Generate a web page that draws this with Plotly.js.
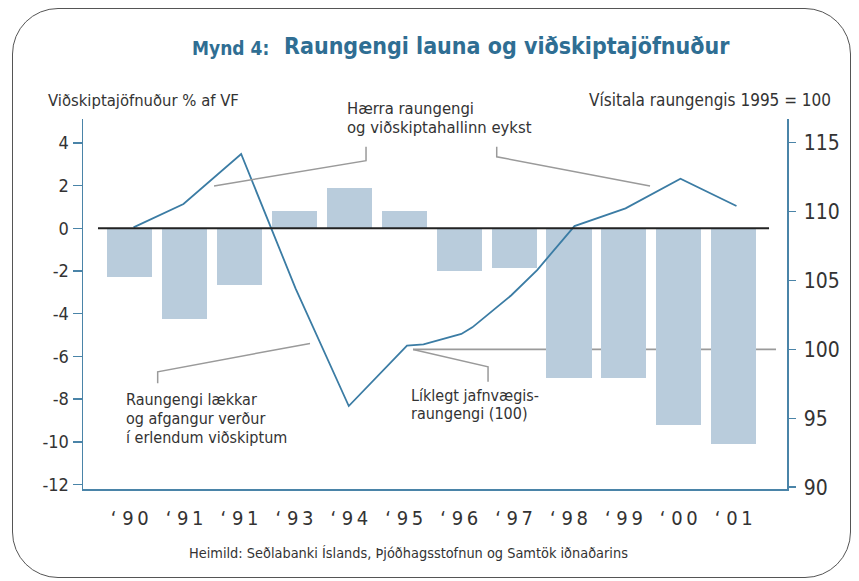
<!DOCTYPE html>
<html>
<head>
<meta charset="utf-8">
<script src="https://cdn.plot.ly/plotly-3.0.1.min.js"></script>
<style>
  html, body { margin:0; padding:0; background:#fff; }
  #wrap { position:relative; width:859px; height:581px; }
  #chart { position:absolute; left:0; top:0; width:859px; height:581px; }
  #frame { position:absolute; left:12px; top:8px; width:837px; height:568px;
           border:1.5px solid #555; border-radius:46px; pointer-events:none; }
</style>
</head>
<body>
<div id="wrap"><div id="chart"></div><div id="frame"></div></div>
<script>
// ---- data ----
const yearLabels = ["‘ 9\u20090","‘ 9\u20091","‘ 9\u20091","‘ 9\u20093","‘ 9\u20094","‘ 9\u20095","‘ 9\u20096","‘ 9\u20097","‘ 9\u20098","‘ 9\u20099","‘ 0\u20090","‘ 0\u20091"];
const yearPos = [0,1,2,3,4,5,6,7,8,9,10,11];
// Viðskiptajöfnuður % af VF (bars, left axis)
const balance = [-2.3,-4.25,-2.65,0.8,1.9,0.8,-2.0,-1.85,-7.0,-7.0,-9.2,-10.1];
// Raungengi launa, 1995 = 100 (line, right axis)
const ratePos = [0.07,0.98,2.03,3.02,3.99,5.05,5.35,6.04,6.24,6.95,7.42,8.10,9.03,10.03,11.05];
const rate = [108.86,110.55,114.18,104.43,95.89,100.27,100.37,101.12,101.60,103.93,105.76,108.95,110.24,112.39,110.41];
const leftTicks = [4,2,0,-2,-4,-6,-8,-10,-12];
const leftTickText = ["4","2","0","-2","-4","-6","-8","-10","-12"];
const rightTicks = [90,95,100,105,110,115];
const equilibrium = 100;

const FONT = "'Liberation Sans Narrow','DejaVu Sans Condensed','Arial Narrow',sans-serif";
const AXC = "#4a84a8";
const TXT = "#333333";
const GRAY = "#9a9a9a";

const traces = [
  { type:"bar", x:yearPos, y:balance, width:0.82, marker:{color:"#b9ccdc", line:{width:0}},
    hoverinfo:"skip", yaxis:"y", xaxis:"x" },
  { type:"scatter", mode:"lines", x:ratePos, y:rate, yaxis:"y2", xaxis:"x",
    line:{color:"#3b7ca4", width:1.8}, hoverinfo:"skip" }
];

function ann(text, x, y, xanchor, size, extra) {
  return Object.assign({ text:text, xref:"paper", yref:"paper", x:x, y:y, xanchor:xanchor, yanchor:"middle",
    showarrow:false, font:{family:FONT, size:size, color:TXT} }, extra||{});
}
const px = p => (p-83)/704;
const py = p => (489-p)/370;

const annotations = [
  ann("Mynd 4:", px(190), py(48), "left", 19, {font:{family:FONT,size:19,color:"#2f6e93",weight:700}}),
  ann("Raungengi launa og viðskiptajöfnuður", px(282), py(46), "left", 23, {font:{family:FONT,size:23,color:"#2f6e93",weight:700}}),
  ann("Viðskiptajöfnuður % af VF", px(46), py(100), "left", 16.5),
  ann("Vísitala raungengis 1995 = 100", px(833), py(100), "right", 17),
  ann("Hærra raungengi", px(345), py(108), "left", 16.5),
  ann("og viðskiptahallinn eykst", px(345), py(128), "left", 16.5),
  ann("Raungengi lækkar", px(124), py(399), "left", 16),
  ann("og afgangur verður", px(124), py(418), "left", 16),
  ann("í erlendum viðskiptum", px(124), py(437), "left", 16),
  ann("Líklegt jafnvægis-", px(409), py(395), "left", 16),
  ann("raungengi (100)", px(409), py(413), "left", 16),
  ann("Heimild: Seðlabanki Íslands, Þjóðhagsstofnun og Samtök iðnaðarins", px(408), py(553), "center", 14.4)
];

const shapes = [
  // equilibrium reference line (behind bars)
  { type:"line", xref:"x", yref:"y2", x0:5.16, x1:11.77, y0:equilibrium, y1:equilibrium,
    line:{color:GRAY, width:1.6}, layer:"below" },
  // zero line
  { type:"line", xref:"x", yref:"y", x0:-0.577, x1:11.643, y0:0, y1:0, line:{color:"#222", width:2}, layer:"above" },
  // pointer: Hærra raungengi (left)
  { type:"path", xref:"x", yref:"y", path:"M 1.536 1.98 L 4.304 3.17 L 4.304 3.82", line:{color:GRAY, width:1.5} },
  // pointer: Hærra raungengi (right)
  { type:"path", xref:"x", yref:"y", path:"M 9.476 1.98 L 6.684 3.35 L 6.684 3.82", line:{color:GRAY, width:1.5} },
  // pointer: Raungengi lækkar
  { type:"path", xref:"x", yref:"y", path:"M 3.284 -5.39 L 0.510 -6.72 L 0.510 -7.26", line:{color:GRAY, width:1.5} },
  // pointer: Líklegt jafnvægisraungengi
  { type:"path", xref:"x", yref:"y2", path:"M 5.16 100 L 6.526 98.74 L 6.526 97.66", line:{color:GRAY, width:1.5} }
];

const layout = {
  width:859, height:581,
  margin:{l:83, r:72, t:119, b:92},
  paper_bgcolor:"#ffffff", plot_bgcolor:"rgba(0,0,0,0)",
  showlegend:false, bargap:0,
  font:{family:FONT, color:TXT},
  xaxis:{ range:[-0.85,11.97], tickmode:"array", tickvals:yearPos, ticktext:yearLabels,
          showgrid:false, zeroline:false, showline:true, linecolor:AXC, linewidth:1.5,
          ticks:"", ticklabelstandoff:10, tickfont:{family:FONT, size:20, color:TXT}, fixedrange:true },
  yaxis:{ range:[-12.21,5.12], tickmode:"array", tickvals:leftTicks, ticktext:leftTickText,
          showgrid:false, zeroline:false, showline:true, linecolor:AXC, linewidth:1.5,
          ticks:"outside", ticklen:9, tickcolor:AXC, tickwidth:1.5,
          tickfont:{family:FONT, size:18, color:TXT}, fixedrange:true },
  yaxis2:{ range:[89.87,116.72], overlaying:"y", side:"right", anchor:"x", tickmode:"array", tickvals:rightTicks,
          showgrid:false, zeroline:false, showline:true, linecolor:AXC, linewidth:1.5,
          ticks:"outside", ticklen:7, tickcolor:AXC, tickwidth:1.5, ticklabelstandoff:4,
          tickfont:{family:FONT, size:21, color:TXT}, fixedrange:true },
  annotations:annotations,
  shapes:shapes
};

Plotly.newPlot("chart", traces, layout, {displayModeBar:false, staticPlot:true});
</script>
</body>
</html>
